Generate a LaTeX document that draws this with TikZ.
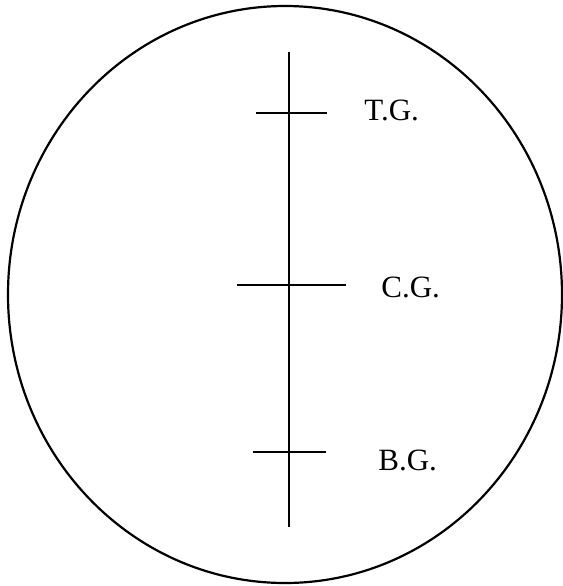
\documentclass[tikz,border=0pt]{standalone}
\usepackage{fontspec}
\setmainfont{Liberation Serif}
\usetikzlibrary{positioning}

\begin{document}
\begin{tikzpicture}[x=0.5pt,y=-0.5pt]
\tikzset{
  rim/.style={line width=1.1pt},
  axisline/.style={line width=1.1pt},
  tickline/.style={line width=1.1pt},
  gravlabel/.style={font=\fontsize{15.5}{17}\selectfont,inner sep=0pt,anchor=west}
}
\useasboundingbox (0,0) rectangle (563,586);
\draw[rim] (285,294.5) ellipse [x radius=277,y radius=288.5];
\coordinate (ax_top) at (289,52);
\coordinate (ax_bot) at (289,527);
\draw[axisline] (ax_top) -- (ax_bot);
\coordinate (tg_l) at (256,113);
\coordinate (tg_r) at (327,113);
\coordinate (cg_l) at (237,285);
\coordinate (cg_r) at (346,285);
\coordinate (bg_l) at (253,452);
\coordinate (bg_r) at (326,452);
\draw[tickline] (tg_l) -- (tg_r);
\draw[tickline] (cg_l) -- (cg_r);
\draw[tickline] (bg_l) -- (bg_r);
\node[gravlabel] (n_TG) at (364,110) {T.G.};
\node[gravlabel] (n_CG) at (381,287) {C.G.};
\node[gravlabel] (n_BG) at (378,460) {B.G.};
\end{tikzpicture}
\end{document}
